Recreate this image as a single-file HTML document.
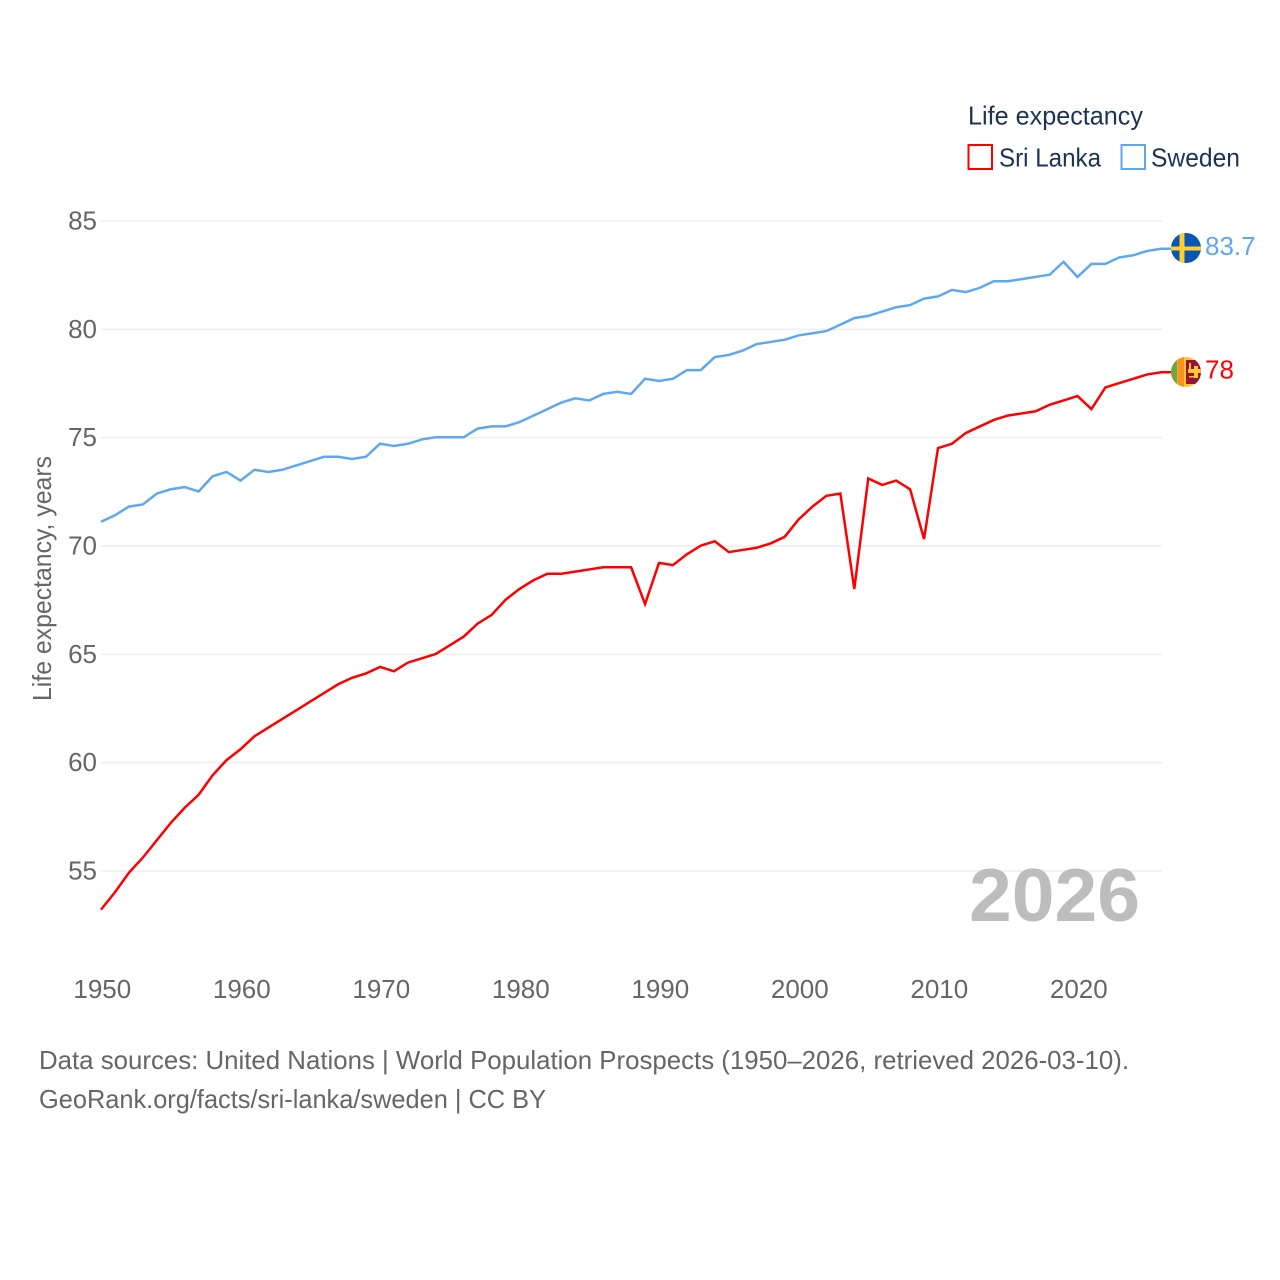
<!DOCTYPE html>
<html lang="en">
<head>
<meta charset="utf-8">
<title>Life expectancy: Sri Lanka and Sweden</title>
<style>
html,body{margin:0;padding:0;background:#fff;width:1280px;height:1280px;overflow:hidden}
svg{display:block;font-family:"Liberation Sans",sans-serif}
</style>
</head>
<body>
<svg id="chart" xmlns="http://www.w3.org/2000/svg" width="1280" height="1280" viewBox="0 0 1280 1280">
  <defs>
    <clipPath id="clip-se"><circle cx="1186" cy="248" r="15"/></clipPath>
    <clipPath id="clip-lk"><circle cx="1186" cy="372" r="15"/></clipPath>
  </defs>
  <g id="grid"></g>
  <g id="yticks"></g>
  <g id="xticks"></g>
  <text x="51" y="701" transform="rotate(-90 51 701)" font-size="26" fill="#666" textLength="245" lengthAdjust="spacingAndGlyphs">Life expectancy, years</text>
  <text x="1140" y="921" text-anchor="end" font-size="75" font-weight="bold" fill="#bdbdbd" textLength="171" lengthAdjust="spacingAndGlyphs">2026</text>
  <g id="series"></g>
  <g id="flag-sweden" clip-path="url(#clip-se)">
    <rect x="1171" y="233" width="30" height="30" fill="#0b55b5"/>
    <rect x="1179.500" y="233" width="5" height="30" fill="#fdd02f"/>
    <rect x="1171" y="246.500" width="30" height="4" fill="#fdd02f"/>
  </g>
  <g id="flag-sri-lanka" clip-path="url(#clip-lk)">
    <rect x="1171" y="357" width="30" height="30" fill="#fbc834"/>
    <rect x="1171" y="357" width="6" height="30" fill="#6fa644"/>
    <rect x="1177.500" y="357" width="6.500" height="30" fill="#f7941d"/>
    <rect x="1186" y="360" width="15" height="24" fill="#9b1033"/>
    <rect x="1188" y="369" width="13" height="4" fill="#fbc834"/>
    <rect x="1194" y="366" width="4" height="12" fill="#fbc834"/>
    <rect x="1189" y="363" width="2" height="10" fill="#fbc834"/>
    <rect x="1189" y="376" width="6" height="1.500" fill="#fbc834"/>
  </g>
  <g id="end-labels"></g>
  <g>
    <text x="968" y="124.500" font-size="26" fill="#1b3354" textLength="175" lengthAdjust="spacingAndGlyphs">Life expectancy</text>
    <g>
      <rect x="968.500" y="145" width="23.500" height="24" fill="#fff" stroke="#ff0000" stroke-width="2"/>
      <text x="999" y="166.500" font-size="26" fill="#1b3354" textLength="102" lengthAdjust="spacingAndGlyphs">Sri Lanka</text>
    </g>
    <g>
      <rect x="1121.500" y="145" width="23.500" height="24" fill="#fff" stroke="#5fa8f0" stroke-width="2"/>
      <text x="1151" y="166.500" font-size="26" fill="#1b3354" textLength="89" lengthAdjust="spacingAndGlyphs">Sweden</text>
    </g>
  </g>
  <text x="39" y="1069" font-size="26" fill="#666" textLength="1090" lengthAdjust="spacingAndGlyphs">Data sources: United Nations | World Population Prospects (1950–2026, retrieved 2026-03-10).</text>
  <text x="39" y="1108" font-size="26" fill="#666" textLength="507" lengthAdjust="spacingAndGlyphs">GeoRank.org/facts/sri-lanka/sweden | CC BY</text>
</svg>
<script>
var startYear = 1950;
var sriLankaValues = [53.2,54.0,54.9,55.6,56.4,57.2,57.9,58.5,59.4,60.1,60.6,61.2,61.6,62.0,62.4,62.8,63.2,63.6,63.9,64.1,64.4,64.2,64.6,64.8,65.0,65.4,65.8,66.4,66.8,67.5,68.0,68.4,68.7,68.7,68.8,68.9,69.0,69.0,69.0,67.3,69.2,69.1,69.6,70.0,70.2,69.7,69.8,69.9,70.1,70.4,71.2,71.8,72.3,72.4,68.0,73.1,72.8,73.0,72.6,70.3,74.5,74.7,75.2,75.5,75.8,76.0,76.1,76.2,76.5,76.7,76.9,76.3,77.3,77.5,77.7,77.9,78.0];
var swedenValues = [71.1,71.4,71.8,71.9,72.4,72.6,72.7,72.5,73.2,73.4,73.0,73.5,73.4,73.5,73.7,73.9,74.1,74.1,74.0,74.1,74.7,74.6,74.7,74.9,75.0,75.0,75.0,75.4,75.5,75.5,75.7,76.0,76.3,76.6,76.8,76.7,77.0,77.1,77.0,77.7,77.6,77.7,78.1,78.1,78.7,78.8,79.0,79.3,79.4,79.5,79.7,79.8,79.9,80.2,80.5,80.6,80.8,81.0,81.1,81.4,81.5,81.8,81.7,81.9,82.2,82.2,82.3,82.4,82.5,83.1,82.4,83.0,83.0,83.3,83.4,83.6,83.7];
var yTickValues = [55,60,65,70,75,80,85];
var xTickValues = [1950,1960,1970,1980,1990,2000,2010,2020];
var sriLankaLabel = "78";
var swedenLabel = "83.7";

var NS = "http://www.w3.org/2000/svg";
function xScale(year){ return 101.5 + (year - 1950) * 13.95; }
function yScale(v){ return 871 - (v - 55) * 21.667; }
function make(tag, attrs, parent, txt){
  var el = document.createElementNS(NS, tag);
  for (var k in attrs) el.setAttribute(k, attrs[k]);
  if (txt !== undefined) el.textContent = txt;
  parent.appendChild(el);
  return el;
}
var grid = document.getElementById("grid");
var yt = document.getElementById("yticks");
var xt = document.getElementById("xticks");
var series = document.getElementById("series");
var ends = document.getElementById("end-labels");

yTickValues.forEach(function(v){
  var line = make("line", {x1:101, x2:1162, y1:yScale(v), y2:yScale(v), stroke:"#eeeeee", "stroke-width":1.5}, grid);
  
  
  var t = make("text", {x:97, y:yScale(v)+8.5, "text-anchor":"end", "font-size":26, fill:"#666"}, yt, String(v));
  
  
});
xTickValues.forEach(function(y){
  var t = make("text", {x:xScale(y)+0.8, y:998, "text-anchor":"middle", "font-size":26, fill:"#666"}, xt, String(y));
  
  
});
function drawSeries(values, color, name, label){
  var pts = values.map(function(v,i){ return (xScale(startYear+i)-0.5).toFixed(2)+","+(yScale(v)-0.4).toFixed(2); });
  var last = values[values.length-1];
  pts.push("1171,"+(yScale(last)-0.4).toFixed(2));
  var p = make("polyline", {points:pts.join(" "), fill:"none", stroke:color, "stroke-width":2.5, "stroke-linejoin":"miter"}, series);
  
  
  var t = make("text", {x:1205, y:yScale(last)+6, "font-size":26, fill:color}, ends, label);
  
  
}
drawSeries(swedenValues, "#5fa8f0", "sweden", swedenLabel);
drawSeries(sriLankaValues, "#ff0000", "sri-lanka", sriLankaLabel);
</script>
</body>
</html>
